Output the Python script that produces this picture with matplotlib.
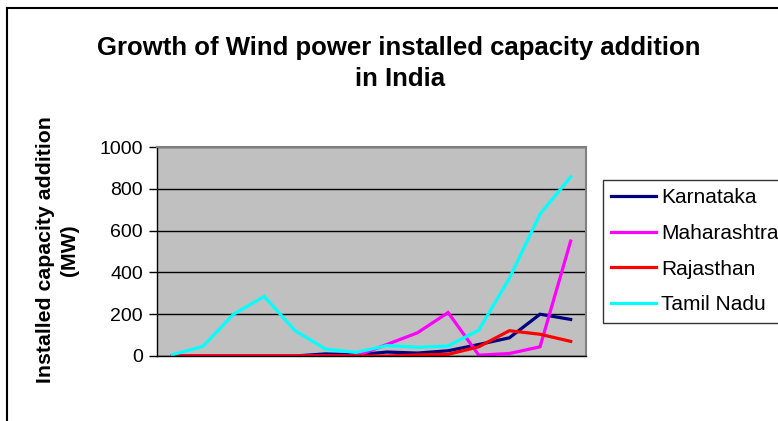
import numpy as np
import matplotlib.pyplot as plt
from matplotlib.lines import Line2D

plt.rcParams['font.family'] = ['Liberation Sans', 'DejaVu Sans']

# 14 yearly points, no category labels shown on the chart
years = list(range(14))
karnataka = [0, 0, 0, 0, 0, 10, 5, 19, 14, 25, 55, 87, 200, 175]
maharashtra = [0, 0, 0, 0, 0, 0, 0, 55, 111, 208, 4, 12, 44, 550]
rajasthan = [0, 0, 0, 0, 0, 0, 0, 0, 5, 8, 44, 121, 104, 70]
tamil_nadu = [6, 46, 200, 285, 122, 33, 17, 50, 42, 48, 124, 372, 679, 857]

series = [("Karnataka", karnataka, "#000080"),
          ("Maharashtra", maharashtra, "#FF00FF"),
          ("Rajasthan", rajasthan, "#FF0000"),
          ("Tamil Nadu", tamil_nadu, "#00FFFF")]

W, H = 778, 421
fig = plt.figure(figsize=(W/100, H/100), dpi=100)
ax = fig.add_axes([157/W, 1-356/H, (586-157)/W, (356-147)/H])
ax.set_facecolor("#C0C0C0")

for name, vals, col in series:
    ax.plot(years, vals, color=col, lw=2.3, label=name, solid_joinstyle="miter")

ax.set_xlim(-0.5, 13.5)
ax.set_ylim(0, 1000)
ax.set_yticks([0, 200, 400, 600, 800, 1000])
ax.set_xticks([])
ax.yaxis.grid(True, color="black", lw=1)
ax.set_axisbelow(True)
ax.tick_params(axis="y", direction="out", length=6, width=1, labelsize=14, pad=4)
for s in ["top", "right"]:
    ax.spines[s].set_color("#808080")
    ax.spines[s].set_linewidth(1.5)
for s in ["left", "bottom"]:
    ax.spines[s].set_color("black")
    ax.spines[s].set_linewidth(1)

fig.text(399/W, 1-48/H, "Growth of Wind power installed capacity addition",
         ha="center", va="center", fontsize=18.5, fontweight="bold")
fig.text(400/W, 1-79/H, "in India",
         ha="center", va="center", fontsize=18.5, fontweight="bold")
fig.text(46/W, 1-250/H, "Installed capacity addition", rotation=90,
         ha="center", va="center", fontsize=15.3, fontweight="bold")
fig.text(69/W, 1-250/H, "(MW)", rotation=90,
         ha="center", va="center", fontsize=15.3, fontweight="bold")

leg = ax.legend(loc="upper left", bbox_to_anchor=(603/W, 1-180/H),
                bbox_transform=fig.transFigure, frameon=True, fancybox=False,
                fontsize=15, handlelength=2.15, handletextpad=0.24,
                labelspacing=0.8, borderpad=0.4, borderaxespad=0)
leg.get_frame().set_edgecolor("black")
leg.get_frame().set_linewidth(1)

# outer chart border (cropped on the right and bottom)
fig.add_artist(Line2D([7/W, 7/W], [0, 1-8/H], color="black", lw=1.5,
                      transform=fig.transFigure))
fig.add_artist(Line2D([7/W, 1], [1-8/H, 1-8/H], color="black", lw=1.5,
                      transform=fig.transFigure))

fig.savefig("out.png", dpi=100)
